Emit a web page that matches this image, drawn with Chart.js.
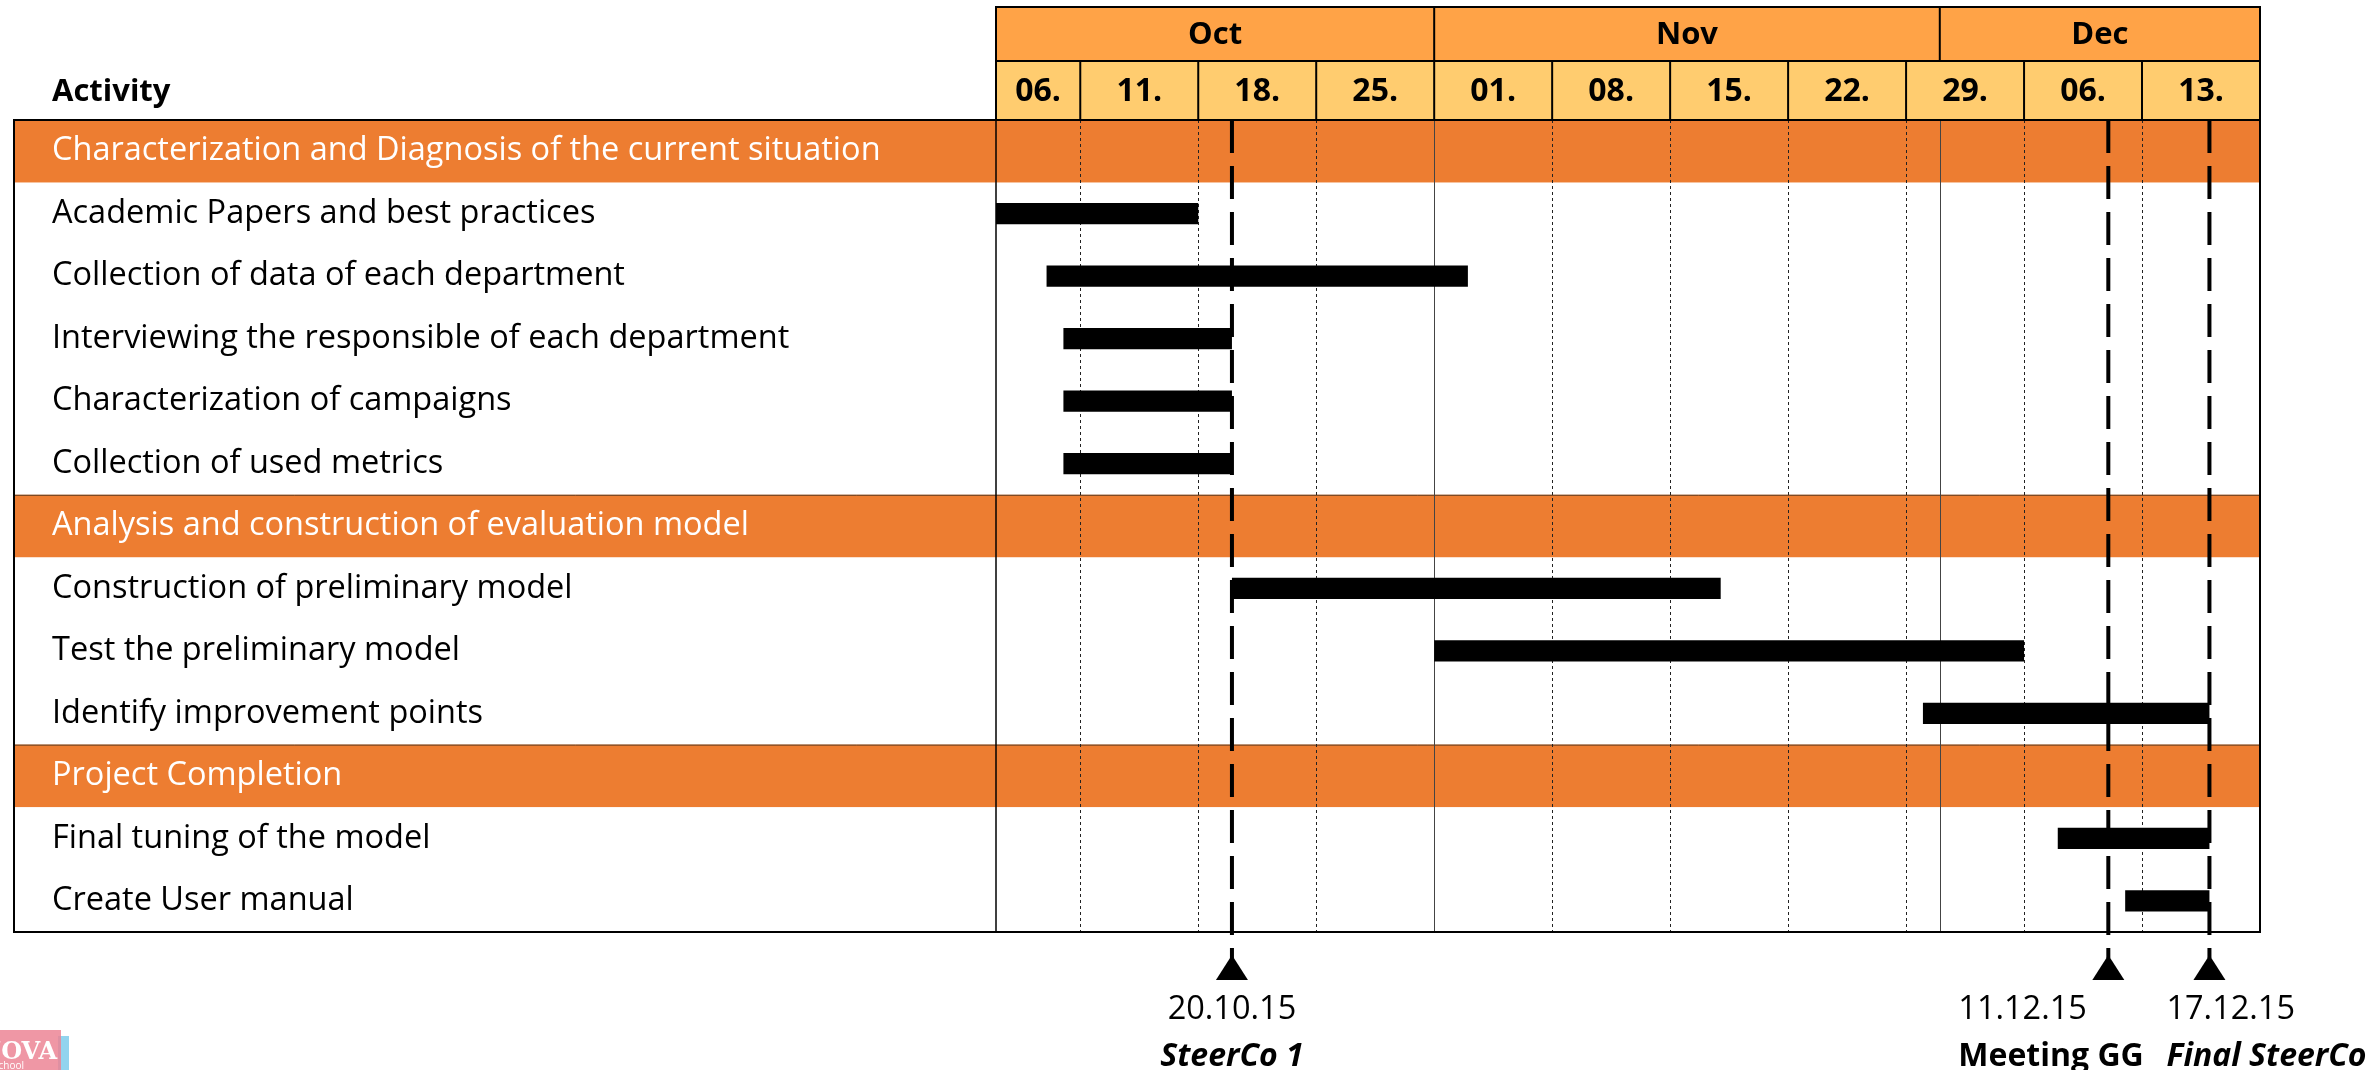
<!DOCTYPE html>
<html>
<head>
<meta charset="utf-8">
<script src="https://cdn.jsdelivr.net/npm/chart.js@4/dist/chart.umd.min.js"></script>
<style>
    body { margin: 0; background: #fff; }
    #wrap { width: 2379px; height: 1070px; }
</style>
</head>
<body>
<div id="wrap"><canvas id="gantt" width="2379" height="1070"></canvas></div>
<script>
// rows of the plan, section rows have no bar
const rowLabels = [
    "Characterization and Diagnosis of the current situation",
    "Academic Papers and best practices",
    "Collection of data of each department",
    "Interviewing the responsible of each department",
    "Characterization of campaigns",
    "Collection of used metrics",
    "Analysis and construction of evaluation model",
    "Construction of preliminary model",
    "Test the preliminary model",
    "Identify improvement points",
    "Project Completion",
    "Final tuning of the model",
    "Create User manual"
];
const sectionRows = [0, 6, 10];

const barStart = [null, "2015-10-06", "2015-10-09", "2015-10-10", "2015-10-10", "2015-10-10",
    null, "2015-10-20", "2015-11-01", "2015-11-30", null, "2015-12-08", "2015-12-12"];
const barEnd = [null, "2015-10-18", "2015-11-03", "2015-10-20", "2015-10-20", "2015-10-20",
    null, "2015-11-18", "2015-12-06", "2015-12-17", null, "2015-12-17", "2015-12-17"];

// time axis
const axisStart = "2015-10-06";
const axisEnd = "2015-12-20";
const months = ["Oct", "Nov", "Dec"];
const monthStarts = ["2015-10-06", "2015-11-01", "2015-12-01"];
const weekLabels = ["06.", "11.", "18.", "25.", "01.", "08.", "15.", "22.", "29.", "06.", "13."];
const weekStarts = ["2015-10-06", "2015-10-11", "2015-10-18", "2015-10-25", "2015-11-01", "2015-11-08",
    "2015-11-15", "2015-11-22", "2015-11-29", "2015-12-06", "2015-12-13"];

// milestones
const milestoneDates = ["2015-10-20", "2015-12-11", "2015-12-17"];
const milestoneDateLabels = ["20.10.15", "11.12.15", "17.12.15"];
const milestoneNames = ["SteerCo 1", "Meeting GG", "Final SteerCo"];

function day(s) {
    return (Date.parse(s) - Date.parse(axisStart)) / 86400000;
}

const FONT = "'Open Sans', 'Noto Sans', sans-serif";
const BAND = "#ED7D31";
const MONTH_BG = "#FFA347";
const WEEK_BG = "#FFCC6F";

const ganttPlugin = {
    id: "gantt",
    beforeDraw(chart) {
        const ctx = chart.ctx;
        const x = chart.scales.x, y = chart.scales.y;
        const area = chart.chartArea;
        const half = (y.getPixelForValue(1) - y.getPixelForValue(0)) / 2;
        ctx.save();
        // section bands
        sectionRows.forEach(i => {
            const c = y.getPixelForValue(i);
            ctx.fillStyle = BAND;
            ctx.fillRect(14, c - half, area.right - 14, half * 2);
            ctx.strokeStyle = "#5a3a20";
            ctx.lineWidth = 1;
            ctx.beginPath();
            ctx.moveTo(14, c - half + 0.5);
            ctx.lineTo(area.right, c - half + 0.5);
            ctx.stroke();
        });
        // dotted week lines
        ctx.strokeStyle = "#222";
        ctx.lineWidth = 1;
        ctx.setLineDash([3, 3]);
        weekStarts.slice(1).forEach(d => {
            const px = Math.round(x.getPixelForValue(day(d))) + 0.5;
            ctx.beginPath();
            ctx.moveTo(px, area.top);
            ctx.lineTo(px, area.bottom);
            ctx.stroke();
        });
        // solid month lines
        ctx.setLineDash([]);
        ctx.strokeStyle = "#444";
        monthStarts.slice(1).forEach(d => {
            const px = Math.round(x.getPixelForValue(day(d))) + 0.5;
            ctx.beginPath();
            ctx.moveTo(px, area.top);
            ctx.lineTo(px, area.bottom);
            ctx.stroke();
        });
        ctx.restore();
    },
    afterDatasetsDraw(chart) {
        const ctx = chart.ctx;
        const x = chart.scales.x;
        const area = chart.chartArea;
        ctx.save();
        // table frame
        ctx.strokeStyle = "#000";
        ctx.lineWidth = 2;
        ctx.beginPath();
        ctx.moveTo(14, area.top);
        ctx.lineTo(area.right, area.top);
        ctx.lineTo(area.right, area.bottom);
        ctx.lineTo(14, area.bottom);
        ctx.closePath();
        ctx.stroke();
        ctx.lineWidth = 1.5;
        ctx.beginPath();
        ctx.moveTo(area.left, area.top);
        ctx.lineTo(area.left, area.bottom);
        ctx.stroke();

        // milestones
        milestoneDates.forEach((d, i) => {
            const px = x.getPixelForValue(day(d));
            ctx.strokeStyle = "#000";
            ctx.lineWidth = 4;
            ctx.setLineDash([33, 13]);
            ctx.beginPath();
            ctx.moveTo(px, area.top);
            ctx.lineTo(px, 958);
            ctx.stroke();
            ctx.setLineDash([]);
            ctx.fillStyle = "#000";
            ctx.beginPath();
            ctx.moveTo(px, 955);
            ctx.lineTo(px + 16, 980);
            ctx.lineTo(px - 16, 980);
            ctx.closePath();
            ctx.fill();
        });
        ctx.restore();
    },
    afterDraw(chart) {
        const ctx = chart.ctx;
        const x = chart.scales.x;
        const area = chart.chartArea;
        const mTop = 7, mBot = 61, wBot = area.top;
        ctx.save();
        // month row
        ctx.fillStyle = MONTH_BG;
        ctx.fillRect(area.left, mTop, area.right - area.left, mBot - mTop);
        ctx.fillStyle = WEEK_BG;
        ctx.fillRect(area.left, mBot, area.right - area.left, wBot - mBot);
        ctx.strokeStyle = "#000";
        ctx.lineWidth = 2;
        ctx.strokeRect(area.left, mTop, area.right - area.left, wBot - mTop);
        ctx.beginPath();
        ctx.moveTo(area.left, mBot);
        ctx.lineTo(area.right, mBot);
        ctx.stroke();

        ctx.fillStyle = "#000";
        ctx.textBaseline = "middle";
        ctx.textAlign = "center";
        ctx.font = "bold 31px " + FONT;
        months.forEach((m, i) => {
            const a = x.getPixelForValue(day(monthStarts[i]));
            const b = i < months.length - 1 ? x.getPixelForValue(day(monthStarts[i + 1])) : area.right;
            if (i > 0) {
                ctx.beginPath();
                ctx.moveTo(a, mTop);
                ctx.lineTo(a, mBot);
                ctx.stroke();
            }
            ctx.fillText(m, (a + b) / 2, (mTop + mBot) / 2 + 1);
        });
        ctx.font = "bold 32px " + FONT;
        weekLabels.forEach((w, i) => {
            const a = x.getPixelForValue(day(weekStarts[i]));
            const b = i < weekLabels.length - 1 ? x.getPixelForValue(day(weekStarts[i + 1])) : area.right;
            if (i > 0) {
                ctx.beginPath();
                ctx.moveTo(a, mBot);
                ctx.lineTo(a, wBot);
                ctx.stroke();
            }
            ctx.fillText(w, (a + b) / 2, (mBot + wBot) / 2 + 1);
        });

        // column title
        ctx.textAlign = "left";
        ctx.font = "bold 31px " + FONT;
        ctx.fillText("Activity", 52, 92);

        // milestone captions
        const offsets = [null, -150, -43];
        milestoneDates.forEach((d, i) => {
            const px = x.getPixelForValue(day(d));
            let lx = px;
            if (offsets[i] === null) {
                ctx.textAlign = "center";
            } else {
                ctx.textAlign = "left";
                lx = px + offsets[i];
            }
            ctx.font = "32.5px " + FONT;
            ctx.fillText(milestoneDateLabels[i], lx, 1010);
            ctx.font = (i === 1 ? "bold " : "italic bold ") + "32px " + FONT;
            ctx.fillText(milestoneNames[i], lx, 1057);
        });

        // logo corner
        ctx.globalAlpha = 0.85;
        ctx.fillStyle = "#7FCDEB";
        ctx.fillRect(58, 1036, 11, 34);
        ctx.fillStyle = "#EC8595";
        ctx.fillRect(0, 1030, 61, 40);
        ctx.globalAlpha = 1;
        ctx.fillStyle = "#fff";
        ctx.textAlign = "right";
        ctx.font = "bold 24px 'DejaVu Serif', serif";
        ctx.fillText("NOVA", 57, 1053);
        ctx.font = "10px " + FONT;
        ctx.fillText("School", 24, 1066);
        ctx.restore();
    }
};

const ctx = document.getElementById("gantt").getContext("2d");
const ganttChart = new Chart(ctx, {
    type: "bar",
    data: {
        labels: rowLabels,
        datasets: [{
            label: "Activity",
            data: rowLabels.map((_, i) => barStart[i] === null ? null : [day(barStart[i]), day(barEnd[i])]),
            backgroundColor: "#000",
            borderWidth: 0,
            borderSkipped: false,
            barPercentage: 0.34,
            categoryPercentage: 1
        }]
    },
    options: {
        indexAxis: "y",
        responsive: false,
        devicePixelRatio: 1,
        animation: false,
        layout: { padding: { top: 120, bottom: 138, left: 52, right: 119 } },
        plugins: {
            legend: { display: false },
            tooltip: { enabled: false }
        },
        scales: {
            x: {
                type: "linear",
                display: false,
                min: 0,
                max: day(axisEnd)
            },
            y: {
                type: "category",
                grid: { display: false },
                border: { display: false },
                afterFit(scale) { scale.width = 944; },
                ticks: {
                    autoSkip: false,
                    crossAlign: "far",
                    padding: 0,
                    font: { family: FONT, size: 32.5 },
                    color: c => sectionRows.includes(c.index) ? "#fff" : "#000"
                }
            }
        }
    },
    plugins: [ganttPlugin]
});
</script>
</body>
</html>
